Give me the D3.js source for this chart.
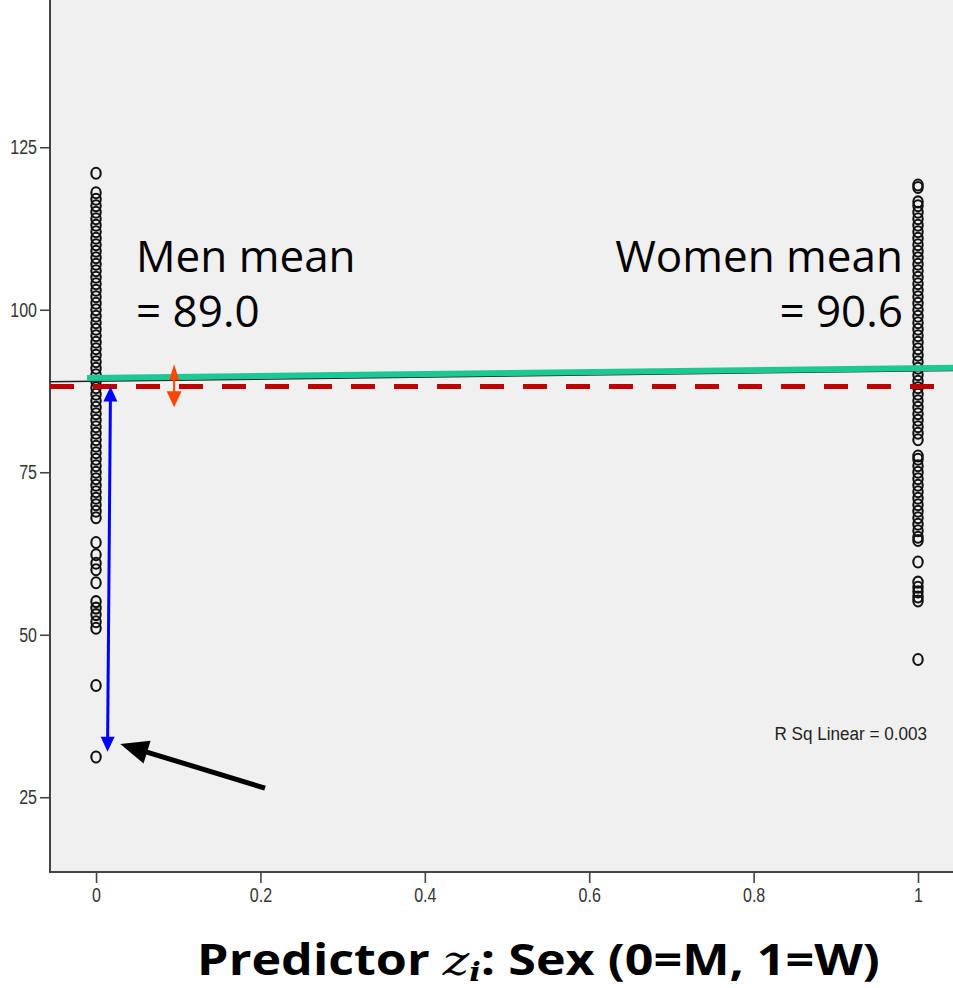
<!DOCTYPE html>
<html>
<head>
<meta charset="utf-8">
<script src="https://cdn.jsdelivr.net/npm/d3@7"></script>
<style>
  html, body { margin: 0; padding: 0; background: #ffffff; }
  svg { display: block; }
</style>
</head>
<body>
<script>
// ---------------- DATA ----------------
const menValues = [121, 118, 117, 116, 115, 114, 113, 112, 111, 110, 109, 108, 107, 106, 105, 104,
  103, 102, 101, 100, 99, 98, 97, 96, 95, 94, 93, 92, 91, 90, 89, 88, 87, 86, 85, 84, 83, 82,
  81, 80, 79, 78, 77, 76, 75, 74, 73, 72, 71, 70, 69, 68, 64.2, 62.3, 61, 60, 58, 55.1, 54.1,
  53.1, 52, 51, 42.2, 31.2];
const womenValues = [119.2, 118.8, 116.6, 116, 115, 114, 113, 112, 111, 110, 109, 108, 107, 106,
  105, 104, 103, 102, 101, 100, 99, 98, 97, 96, 95, 94, 93, 92, 91, 90, 89, 88, 87, 86, 85, 84,
  83, 82, 81, 80, 77.5, 77, 76, 75, 74, 73, 72, 71, 70, 69, 68, 67, 66, 65, 64.5, 61.2, 58.1,
  57.3, 56.6, 55.8, 55.2, 46.2];
const groups = [0, 1];                       // predictor: 0 = men, 1 = women
const groupMeans = [89.0, 90.6];
const fitIntercept = 89.0;
const fitSlope = 1.6;
const grandMean = 88.2;
const greenLine = [[-0.011, 89.5], [1.1, 91.15]];
const blueArrow = [[0.0176, 88.2], [0.014, 32.0]];
const orangeArrow = [[0.095, 91.6], [0.095, 85.0]];
const blackArrow = [[0.2056, 26.4], [0.0295, 33.2]];
const xTicks = [0, 0.2, 0.4, 0.6, 0.8, 1];
const xTickLabels = ["0", "0.2", "0.4", "0.6", "0.8", "1"];
const yTicks = [25, 50, 75, 100, 125];
const rSqText = "R Sq Linear = 0.003";

// ---------------- LAYOUT ----------------
const W = 953, H = 988;
const svg = d3.select("body").append("svg").attr("width", W).attr("height", H);

const x = d3.scaleLinear().domain([-0.056, 1.1]).range([50, 1000.2]);
const y = d3.scaleLinear().domain([13.5, 150]).range([872, -15.25]);

// plot background
svg.append("rect")
  .attr("x", x(-0.056)).attr("y", y(150))
  .attr("width", x(1.1) - x(-0.056)).attr("height", y(13.5) - y(150))
  .attr("fill", "#f0f0f0");

const tickFont = "'Liberation Sans', Arial, sans-serif";
const narrow = 0.8;

// axes
const yAxis = d3.axisLeft(y).tickValues(yTicks).tickSize(10).tickPadding(3).tickFormat(d3.format("d"));
const gy = svg.append("g").attr("transform", `translate(${x(-0.056)},0)`).call(yAxis);
const xAxis = d3.axisBottom(x).tickValues(xTicks).tickSize(11).tickPadding(8)
  .tickFormat((d, i) => xTickLabels[i]);
const gx = svg.append("g").attr("transform", `translate(0,${y(13.5)})`).call(xAxis);

[gx, gy].forEach(g => {
  g.attr("font-size", null);
  g.select(".domain").remove();
  g.selectAll(".tick line").attr("stroke", "#444").attr("stroke-width", 1.6);
  g.selectAll(".tick text").attr("fill", "#333").style("font-family", tickFont).style("font-size", "20px");
});
gy.selectAll(".tick text").attr("x", -13 / narrow).attr("transform", `scale(${narrow},1)`);
gx.selectAll(".tick text").attr("transform", `scale(${narrow},1)`).attr("y", 16);

// axis lines
svg.append("line").attr("x1", x(-0.056)).attr("x2", x(-0.056)).attr("y1", y(150)).attr("y2", y(13.5) + 1)
  .attr("stroke", "#444").attr("stroke-width", 2);
svg.append("line").attr("x1", x(-0.056) - 1).attr("x2", x(1.1)).attr("y1", y(13.5)).attr("y2", y(13.5))
  .attr("stroke", "#444").attr("stroke-width", 2);

// points
const pts = [];
menValues.forEach(v => pts.push([groups[0], v]));
womenValues.forEach(v => pts.push([groups[1], v]));
svg.append("g").selectAll("ellipse").data(pts).join("ellipse")
  .attr("cx", d => x(d[0])).attr("cy", d => y(d[1]))
  .attr("rx", 4.7).attr("ry", 5.5)
  .attr("fill", "none").attr("stroke", "#111").attr("stroke-width", 2.1);

// fit line (thin black)
svg.append("line")
  .attr("x1", x(-0.056)).attr("y1", y(fitIntercept + fitSlope * -0.056))
  .attr("x2", x(1.1)).attr("y2", y(fitIntercept + fitSlope * 1.1))
  .attr("stroke", "#222").attr("stroke-width", 1.5);

// grand mean dashed red
svg.append("line")
  .attr("x1", x(-0.056)).attr("y1", y(grandMean))
  .attr("x2", x(1.1)).attr("y2", y(grandMean))
  .attr("stroke", "#c00000").attr("stroke-width", 5).attr("stroke-dasharray", "24,19");

// green line
svg.append("line")
  .attr("x1", x(greenLine[0][0])).attr("y1", y(greenLine[0][1]))
  .attr("x2", x(greenLine[1][0])).attr("y2", y(greenLine[1][1]))
  .attr("stroke", "#1cc995").attr("stroke-width", 6);

// arrows
function arrowHead(g, tip, from, len, halfW, color) {
  const dx = tip[0] - from[0], dy = tip[1] - from[1];
  const L = Math.hypot(dx, dy), ux = dx / L, uy = dy / L;
  const bx = tip[0] - ux * len, by = tip[1] - uy * len;
  const px = -uy * halfW, py = ux * halfW;
  g.append("polygon")
    .attr("points", `${tip[0]},${tip[1]} ${bx + px},${by + py} ${bx - px},${by - py}`)
    .attr("fill", color);
}
function drawArrow(spec, color, width, len, halfW, both, lenStart, halfWStart) {
  const g = svg.append("g");
  const a = [x(spec[0][0]), y(spec[0][1])];
  const b = [x(spec[1][0]), y(spec[1][1])];
  const dx = b[0] - a[0], dy = b[1] - a[1];
  const L = Math.hypot(dx, dy), ux = dx / L, uy = dy / L;
  const ls = lenStart || len;
  const a2 = both ? [a[0] + ux * (ls - 2), a[1] + uy * (ls - 2)] : a;
  const b2 = [b[0] - ux * (len - 2), b[1] - uy * (len - 2)];
  g.append("line").attr("x1", a2[0]).attr("y1", a2[1]).attr("x2", b2[0]).attr("y2", b2[1])
    .attr("stroke", color).attr("stroke-width", width);
  arrowHead(g, b, a, len, halfW, color);
  if (both) arrowHead(g, a, b, ls, halfWStart || halfW, color);
}
drawArrow(blueArrow, "#0000ff", 3, 15, 7, true);
drawArrow(orangeArrow, "#ff4500", 2, 16, 7.5, true, 16, 5);
drawArrow(blackArrow, "#000000", 5, 28, 12, false);

// annotations
const bigFont = "'Open Sans', 'Noto Sans', sans-serif";
const ann = svg.append("g").style("font-family", bigFont).style("font-size", "44px").attr("fill", "#000");
ann.append("text").attr("x", 136).attr("y", 272).text("Men mean");
ann.append("text").attr("x", 136).attr("y", 327).text("= " + groupMeans[0].toFixed(1));
ann.append("text").attr("x", 903).attr("y", 272).attr("text-anchor", "end").text("Women mean");
ann.append("text").attr("x", 903).attr("y", 327).attr("text-anchor", "end").text("= " + groupMeans[1].toFixed(1));

svg.append("text").attr("transform", `translate(927,740) scale(0.9,1)`).attr("text-anchor", "end")
  .style("font-family", tickFont).style("font-size", "19px").attr("fill", "#222").text(rSqText);

// x-axis title
const title = svg.append("text").attr("x", 538.5).attr("y", 975).attr("text-anchor", "middle")
  .style("font-family", bigFont).style("font-size", "43px").style("font-weight", "bold").attr("fill", "#000");
title.append("tspan").text("Predictor ");
title.append("tspan").style("font-family", "'DejaVu Serif', 'Liberation Serif', serif").style("font-style", "italic")
  .style("font-weight", "normal").text("z");
title.append("tspan").style("font-family", "'DejaVu Serif', 'Liberation Serif', serif").style("font-style", "italic")
  .style("font-size", "26px").attr("dy", 6).text("i");
title.append("tspan").attr("dy", -6).text(": Sex (0=M, 1=W)");
const bb = title.node().getBBox();
const sx = 683 / bb.width;
title.attr("transform", `translate(538.5,0) scale(${sx},1) translate(-538.5,0)`);
</script>
</body>
</html>
